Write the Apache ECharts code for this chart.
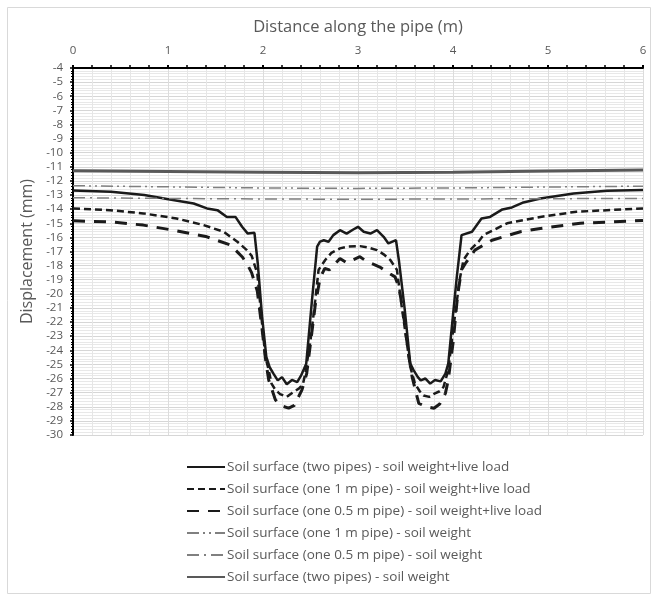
<!DOCTYPE html>
<html>
<head>
<meta charset="utf-8">
<script src="https://cdn.jsdelivr.net/npm/echarts@6/dist/echarts.min.js"></script>
<style>
html,body{margin:0;padding:0;background:#fff;}
#chart{width:653px;height:596px;}
</style>
</head>
<body>
<div id="chart"></div>
<script>
// ---- data ----
var seriesNames = [
  'Soil surface (two pipes) - soil weight+live load',
  'Soil surface (one 1 m pipe) - soil weight+live load',
  'Soil surface (one 0.5 m pipe) - soil weight+live load',
  'Soil surface (one 1 m pipe) - soil weight',
  'Soil surface (one 0.5 m pipe) - soil weight',
  'Soil surface (two pipes) - soil weight'
];

var xTwoLive = [0, 0.4, 0.75, 1.02, 1.27, 1.41, 1.52, 1.62, 1.71, 1.78, 1.84, 1.91, 1.945, 1.99, 2.035, 2.07, 2.11, 2.155, 2.2, 2.25, 2.305, 2.36, 2.4, 2.455, 2.515, 2.57, 2.6, 2.64, 2.69, 2.74, 2.81, 2.88, 2.95, 3.0, 3.06, 3.13, 3.2, 3.27, 3.32, 3.4, 3.43, 3.49, 3.55, 3.585, 3.63, 3.66, 3.71, 3.76, 3.81, 3.87, 3.92, 3.95, 4.0, 4.04, 4.09, 4.2, 4.3, 4.39, 4.52, 4.62, 4.73, 4.92, 5.27, 5.62, 6.0];
var yTwoLive = [-12.67, -12.77, -13.0, -13.31, -13.6, -13.95, -14.07, -14.55, -14.55, -15.25, -15.73, -15.68, -17.85, -21.6, -24.47, -25.2, -25.65, -26.13, -25.9, -26.4, -26.1, -26.25, -25.8, -24.95, -20.5, -16.66, -16.3, -16.2, -16.31, -15.84, -15.49, -15.73, -15.44, -15.25, -15.6, -15.73, -15.49, -15.96, -16.43, -16.2, -17.6, -21.0, -24.94, -25.4, -25.9, -26.13, -26.0, -26.36, -26.1, -26.2, -25.65, -24.94, -21.5, -18.8, -15.84, -15.6, -14.66, -14.55, -14.02, -13.88, -13.55, -13.24, -12.89, -12.7, -12.65];

var xOne1Live = [0, 0.39, 0.74, 1.09, 1.375, 1.585, 1.73, 1.83, 1.88, 1.94, 1.99, 2.025, 2.06, 2.09, 2.13, 2.18, 2.25, 2.31, 2.38, 2.42, 2.445, 2.5, 2.55, 2.585, 2.655, 2.72, 2.81, 2.9, 3.02, 3.1, 3.2, 3.27, 3.34, 3.41, 3.46, 3.52, 3.55, 3.6, 3.65, 3.69, 3.75, 3.81, 3.86, 3.9, 3.95, 4.01, 4.07, 4.11, 4.18, 4.27, 4.32, 4.57, 4.92, 5.3, 6.0];
var yOne1Live = [-13.95, -14.07, -14.3, -14.66, -15.13, -15.6, -16.31, -16.9, -17.3, -18.55, -22.1, -24.47, -25.4, -26.36, -26.8, -27.1, -27.3, -27.0, -26.7, -26.4, -25.65, -23.3, -20.45, -18.3, -17.6, -17.1, -16.78, -16.65, -16.62, -16.7, -16.9, -17.2, -17.6, -18.3, -20.9, -23.75, -25.18, -26.36, -26.9, -27.2, -27.3, -27.05, -26.9, -26.6, -25.4, -22.1, -19.0, -17.6, -16.9, -16.3, -15.84, -15.0, -14.55, -14.18, -13.95];

var xOneHalfLive = [0, 0.39, 0.74, 1.09, 1.41, 1.66, 1.78, 1.83, 1.88, 1.94, 1.99, 2.03, 2.06, 2.13, 2.18, 2.27, 2.33, 2.41, 2.46, 2.5, 2.55, 2.6, 2.65, 2.7, 2.81, 2.88, 3.02, 3.09, 3.23, 3.34, 3.39, 3.43, 3.48, 3.53, 3.57, 3.64, 3.72, 3.8, 3.86, 3.92, 3.95, 4.0, 4.05, 4.09, 4.13, 4.23, 4.41, 4.71, 4.92, 5.34, 5.9, 6.0];
var yOneHalfLive = [-14.83, -14.9, -15.13, -15.53, -15.96, -16.55, -17.37, -17.85, -18.5, -19.8, -22.5, -24.8, -26.1, -27.5, -27.9, -28.1, -27.9, -26.8, -25.65, -23.5, -20.8, -18.9, -18.2, -18.3, -17.5, -17.8, -17.37, -17.7, -18.1, -18.6, -18.8, -19.5, -21.5, -24.2, -25.9, -27.76, -28.0, -28.1, -27.8, -27.05, -26.1, -23.5, -20.0, -18.3, -17.85, -16.9, -16.2, -15.6, -15.37, -15.0, -14.83, -14.8];

var xFlat = [0, 1, 2, 3, 4, 5, 6];
var yOne1Soil = [-12.34, -12.42, -12.5, -12.53, -12.5, -12.43, -12.37];
var yOneHalfSoil = [-13.19, -13.24, -13.28, -13.3, -13.28, -13.26, -13.24];
var yTwoSoil = [-11.28, -11.33, -11.38, -11.42, -11.38, -11.3, -11.22];

function pairs(xs, ys) { return xs.map(function (x, i) { return [x, ys[i]]; }); }

var FONT = '"Open Sans", "Noto Sans", sans-serif';
var GREY_TXT = '#595959';

function lineSeries(name, data, color, width, type) {
  return {
    name: name, type: 'line', data: data, showSymbol: false, symbol: 'none',
    smooth: false, animation: false,
    lineStyle: { color: color, width: width, type: type, cap: 'butt' },
    itemStyle: { color: color }
  };
}

var chart = echarts.init(document.getElementById('chart'), null, { renderer: 'canvas' });
chart.setOption({
  animation: false,
  backgroundColor: '#ffffff',
  textStyle: { fontFamily: FONT },
  graphic: [{
    type: 'rect', left: 5, top: 5, silent: true,
    shape: { width: 643, height: 586 },
    style: { fill: 'none', stroke: '#d9d9d9', lineWidth: 1 }
  }],
  grid: { left: 73, right: 10, top: 68, bottom: 161, containLabel: false },
  legend: {
    orient: 'vertical', left: 186, top: 460, padding: 0,
    itemWidth: 38, itemHeight: 14, itemGap: 8,
    itemStyle: { opacity: 0, borderWidth: 0 },
    textStyle: { color: GREY_TXT, fontSize: 13.5, fontFamily: FONT, padding: [0, 0, 0, -3] },
    data: seriesNames
  },
  xAxis: {
    type: 'value', position: 'top', min: 0, max: 6, interval: 1,
    name: 'Distance along the pipe (m)', nameLocation: 'middle', nameGap: 32,
    nameTextStyle: { color: GREY_TXT, fontSize: 16.5, fontFamily: FONT },
    axisLine: { show: true, onZero: false, lineStyle: { color: '#000', width: 2 } },
    axisTick: { show: true, inside: false, length: 3, lineStyle: { color: '#000', width: 2 } },
    minorTick: { show: true, splitNumber: 5, length: 3, lineStyle: { color: '#000', width: 1.5 } },
    axisLabel: { color: GREY_TXT, fontSize: 11.5, margin: 11, fontFamily: FONT },
    splitLine: { show: true, lineStyle: { color: '#dcdcdc', width: 1 } },
    minorSplitLine: { show: true, lineStyle: { color: '#e6e6e6', width: 1 } }
  },
  yAxis: {
    type: 'value', min: -30, max: -4, interval: 1,
    name: 'Displacement (mm)', nameLocation: 'middle', nameGap: 33,
    nameTextStyle: { color: GREY_TXT, fontSize: 16, fontFamily: FONT },
    axisLine: { show: true, onZero: false, lineStyle: { color: '#000', width: 2 } },
    axisTick: { show: true, inside: false, length: 3, lineStyle: { color: '#000', width: 1.5 } },
    minorTick: { show: true, splitNumber: 5, length: 2, lineStyle: { color: '#000', width: 1 } },
    axisLabel: { color: GREY_TXT, fontSize: 11.5, margin: 10, fontFamily: FONT },
    splitLine: { show: true, lineStyle: { color: '#d6d6d6', width: 1 } },
    minorSplitLine: { show: true, lineStyle: { color: '#e8e8e8', width: 1 } }
  },
  series: [
    lineSeries(seriesNames[0], pairs(xTwoLive, yTwoLive), '#1a1a1a', 2.5, 'solid'),
    lineSeries(seriesNames[1], pairs(xOne1Live, yOne1Live), '#1a1a1a', 2.5, [7, 4]),
    lineSeries(seriesNames[2], pairs(xOneHalfLive, yOneHalfLive), '#1a1a1a', 3, [12, 9]),
    lineSeries(seriesNames[3], pairs(xFlat, yOne1Soil), '#808080', 1.5, [12, 4, 2, 4, 2, 4]),
    lineSeries(seriesNames[4], pairs(xFlat, yOneHalfSoil), '#808080', 1.5, [12, 5, 2, 5]),
    lineSeries(seriesNames[5], pairs(xFlat, yTwoSoil), '#595959', 3, 'solid')
  ]
});
</script>
</body>
</html>
